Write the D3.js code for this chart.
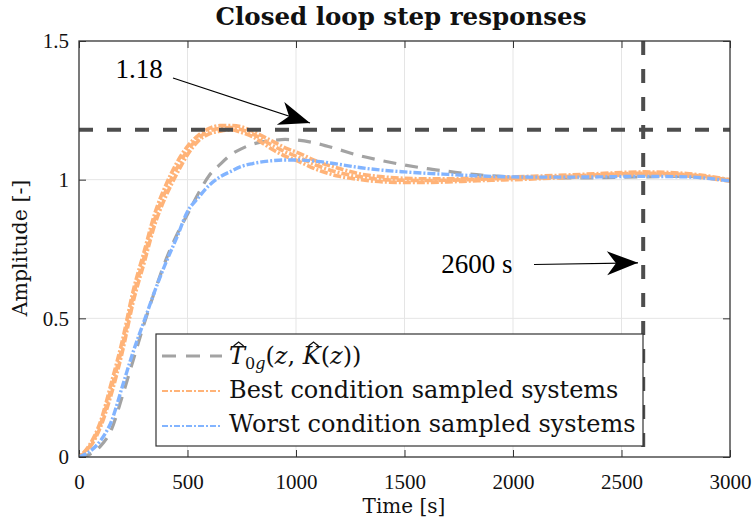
<!DOCTYPE html>
<html><head><meta charset="utf-8">
<script src="https://cdn.jsdelivr.net/npm/d3@7"></script>
<style>body{margin:0;background:#fff}svg{display:block}</style>
</head><body>
<svg id="c" width="752" height="521"></svg>
<script>
const timeS = [0,50,100,150,200,250,300,350,400,450,500,550,600,650,700,750,800,850,900,950,1000,1100,1200,1300,1400,1500,1600,1700,1800,1900,2000,2200,2400,2600,2800,3000];
const nominalT0g = [0,0.01,0.04,0.10,0.22,0.35,0.48,0.60,0.71,0.80,0.875,0.95,1.015,1.055,1.09,1.112,1.128,1.137,1.142,1.145,1.143,1.13,1.108,1.085,1.068,1.053,1.04,1.03,1.02,1.014,1.01,1.006,1.007,1.01,1.012,1.0];
const bestHi = [0,0.045,0.13,0.27,0.42,0.60,0.74,0.88,0.98,1.06,1.12,1.16,1.185,1.195,1.195,1.19,1.175,1.155,1.135,1.115,1.10,1.065,1.04,1.02,1.01,1.005,1.003,1.003,1.005,1.007,1.01,1.015,1.022,1.028,1.022,1.0];
const bestMid = [0,0.04,0.12,0.25,0.40,0.58,0.72,0.86,0.96,1.04,1.105,1.15,1.175,1.185,1.188,1.18,1.165,1.142,1.12,1.10,1.085,1.05,1.025,1.01,1.0,0.998,0.997,0.998,1.0,1.003,1.005,1.01,1.018,1.023,1.018,0.997];
const bestLo = [0,0.035,0.11,0.23,0.38,0.56,0.70,0.84,0.94,1.02,1.09,1.14,1.165,1.175,1.18,1.17,1.155,1.13,1.105,1.085,1.07,1.035,1.012,1.0,0.992,0.99,0.99,0.992,0.995,0.998,1.0,1.006,1.013,1.018,1.013,0.994];
const worst = [0,0.02,0.06,0.13,0.255,0.38,0.49,0.60,0.70,0.79,0.885,0.935,0.98,1.01,1.03,1.048,1.058,1.065,1.069,1.071,1.071,1.066,1.055,1.043,1.034,1.028,1.023,1.019,1.015,1.012,1.01,1.009,1.01,1.012,1.01,0.995];
const xTicks = [0,500,1000,1500,2000,2500,3000];
const yTicks = [0,0.5,1,1.5];
const yTickLabels = ["0","0.5","1","1.5"];
const overshoot = 1.18;
const settleTime = 2600;
const titleText = "Closed loop step responses";
const xLabel = "Time [s]";
const yLabel = "Amplitude [-]";
const legendLabels = ["Best condition sampled systems","Worst condition sampled systems"];

const FONT = "'Liberation Serif','Times New Roman',serif";
const WFONT = "'DejaVu Serif',serif";
const svg = d3.select("#c");
const x = d3.scaleLinear().domain([0,3000]).range([79,730]);
const y = d3.scaleLinear().domain([0,1.5]).range([457,41]);
const C = {gray:"#a3a3a3", orange:"#ffb378", blue:"#82b4ff", dark:"#4d4d4d", axis:"#333"};

// grid
const g = svg.append("g");
g.selectAll(".gx").data(xTicks.slice(1,-1)).join("line")
  .attr("x1",d=>x(d)).attr("x2",d=>x(d)).attr("y1",y(0)).attr("y2",y(1.5))
  .attr("stroke","#e5e5e5").attr("stroke-width",1);
g.selectAll(".gy").data(yTicks.slice(1,-1)).join("line")
  .attr("x1",x(0)).attr("x2",x(3000)).attr("y1",d=>y(d)).attr("y2",d=>y(d))
  .attr("stroke","#e5e5e5").attr("stroke-width",1);

// axes with inward ticks
const ax = svg.append("g").attr("font-family",FONT);
ax.append("g").attr("transform",`translate(0,${y(0)})`)
  .call(d3.axisBottom(x).tickValues(xTicks).tickSize(-7).tickPadding(17).tickFormat(d3.format("d")))
  .call(s=>{s.select(".domain").remove();s.selectAll("line").attr("stroke",C.axis);s.selectAll("text").attr("font-size",21).attr("fill","#111").attr("font-family",FONT);});
ax.append("g").attr("transform",`translate(0,${y(1.5)})`)
  .call(d3.axisTop(x).tickValues(xTicks).tickSize(-7).tickFormat(""))
  .call(s=>{s.select(".domain").remove();s.selectAll("line").attr("stroke",C.axis);});
ax.append("g").attr("transform",`translate(${x(0)},0)`)
  .call(d3.axisLeft(y).tickValues(yTicks).tickSize(-7).tickPadding(10).tickFormat((d,i)=>yTickLabels[i]))
  .call(s=>{s.select(".domain").remove();s.selectAll("line").attr("stroke",C.axis);s.selectAll("text").attr("font-size",21).attr("fill","#111").attr("font-family",FONT);});
ax.append("g").attr("transform",`translate(${x(3000)},0)`)
  .call(d3.axisRight(y).tickValues(yTicks).tickSize(-7).tickFormat(""))
  .call(s=>{s.select(".domain").remove();s.selectAll("line").attr("stroke",C.axis);});

// data lines
svg.append("clipPath").attr("id","clp").append("rect")
  .attr("x",x(0)).attr("y",y(1.5)).attr("width",x(3000)-x(0)).attr("height",y(0)-y(1.5));
const line = d3.line().x((d,i)=>x(timeS[i])).y(d=>y(d)).curve(d3.curveMonotoneX);
const plot = svg.append("g").attr("clip-path","url(#clp)");
plot.append("path").attr("d",line(nominalT0g)).attr("fill","none").attr("stroke",C.gray)
  .attr("stroke-width",3.2).attr("stroke-dasharray","13,9");
[bestLo,bestMid,bestHi].forEach((s,k)=>{
  plot.append("path").attr("d",line(s)).attr("fill","none").attr("stroke",C.orange)
    .attr("stroke-width",3.6).attr("stroke-dasharray","8,2,2,2").attr("stroke-dashoffset",k*4);
});
plot.append("path").attr("d",line(worst)).attr("fill","none").attr("stroke",C.blue)
  .attr("stroke-width",3.4).attr("stroke-dasharray","8,2,2,2");

// reference dashed lines
svg.append("line").attr("x1",x(0)).attr("x2",x(3000)).attr("y1",y(overshoot)).attr("y2",y(overshoot))
  .attr("stroke",C.dark).attr("stroke-width",4).attr("stroke-dasharray","14,14");
svg.append("line").attr("x1",x(settleTime)).attr("x2",x(settleTime)).attr("y1",y(1.5)).attr("y2",y(0))
  .attr("stroke",C.dark).attr("stroke-width",4).attr("stroke-dasharray","14,14");

// axis box
svg.append("rect").attr("x",x(0)).attr("y",y(1.5)).attr("width",x(3000)-x(0)).attr("height",y(0)-y(1.5))
  .attr("fill","none").attr("stroke",C.axis).attr("stroke-width",1.3);

// arrows
function arrow(x1,y1,x2,y2){
  svg.append("line").attr("x1",x1).attr("y1",y1).attr("x2",x2).attr("y2",y2).attr("stroke","#000").attr("stroke-width",1.2);
  const a=Math.atan2(y2-y1,x2-x1), L=31, W=12, N=22;
  const p=(l,w)=>[x2-l*Math.cos(a)-w*Math.sin(a), y2-l*Math.sin(a)+w*Math.cos(a)];
  const pts=[[x2,y2],p(L,W),p(N,0),p(L,-W)];
  svg.append("path").attr("d","M"+pts.map(q=>q.join(",")).join("L")+"Z").attr("fill","#000");
}
arrow(173,78,310,123);
arrow(534,264.5,638,262.8);
svg.append("text").attr("x",139).attr("y",78).attr("text-anchor","middle").attr("font-family",FONT)
  .attr("font-size",27).text(String(overshoot));
svg.append("text").attr("x",477).attr("y",273).attr("text-anchor","middle").attr("font-family",FONT)
  .attr("font-size",27).text(settleTime+" s");

// legend
const lg = svg.append("g");
lg.append("rect").attr("x",156).attr("y",334).attr("width",487).attr("height",112)
  .attr("fill","#fff").attr("stroke","#333").attr("stroke-width",1.2);
lg.append("line").attr("x1",162).attr("x2",222).attr("y1",356).attr("y2",356).attr("stroke",C.gray).attr("stroke-width",3.2).attr("stroke-dasharray","14,10");
lg.append("line").attr("x1",162).attr("x2",222).attr("y1",391).attr("y2",391).attr("stroke",C.orange).attr("stroke-width",2).attr("stroke-dasharray","6,2,2,2");
lg.append("line").attr("x1",162).attr("x2",222).attr("y1",426).attr("y2",426).attr("stroke",C.blue).attr("stroke-width",2).attr("stroke-dasharray","6,2,2,2");
const mt = lg.append("text").attr("x",229).attr("y",364).attr("font-family",WFONT).attr("font-size",24).attr("fill","#111");
mt.append("tspan").attr("font-style","italic").text("T");
mt.append("tspan").attr("font-size",16).attr("dy",5).text("0");
mt.append("tspan").attr("font-size",16).attr("font-style","italic").text("g");
mt.append("tspan").attr("dy",-5).text("(");
mt.append("tspan").attr("font-style","italic").text("z");
mt.append("tspan").text(", ");
mt.append("tspan").attr("font-style","italic").text("K");
mt.append("tspan").text("(");
mt.append("tspan").attr("font-style","italic").text("z");
mt.append("tspan").text("))");
const tn = mt.node();
[0,7].forEach(i=>{
  const e = tn.getExtentOfChar(i);
  const cx = e.x + e.width*0.6, cy = e.y + 3;
  lg.append("path").attr("d",`M${cx-5},${cy+1}L${cx},${cy-3}L${cx+5},${cy+1}`).attr("fill","none").attr("stroke","#111").attr("stroke-width",1.3);
});
legendLabels.forEach((t,i)=>{
  lg.append("text").attr("x",229).attr("y",398+i*34).attr("font-family",WFONT).attr("font-size",24).attr("fill","#111").text(t);
});

// titles
svg.append("text").attr("x",401).attr("y",25).attr("text-anchor","middle").attr("font-family",WFONT)
  .attr("font-weight","bold").attr("font-size",24.5).attr("fill","#111").text(titleText);
svg.append("text").attr("x",404).attr("y",513).attr("text-anchor","middle").attr("font-family",WFONT)
  .attr("font-size",20).attr("fill","#111").text(xLabel);
svg.append("text").attr("transform","translate(27,248) rotate(-90)").attr("text-anchor","middle").attr("font-family",WFONT)
  .attr("font-size",20.5).attr("fill","#111").text(yLabel);
</script>
</body></html>
